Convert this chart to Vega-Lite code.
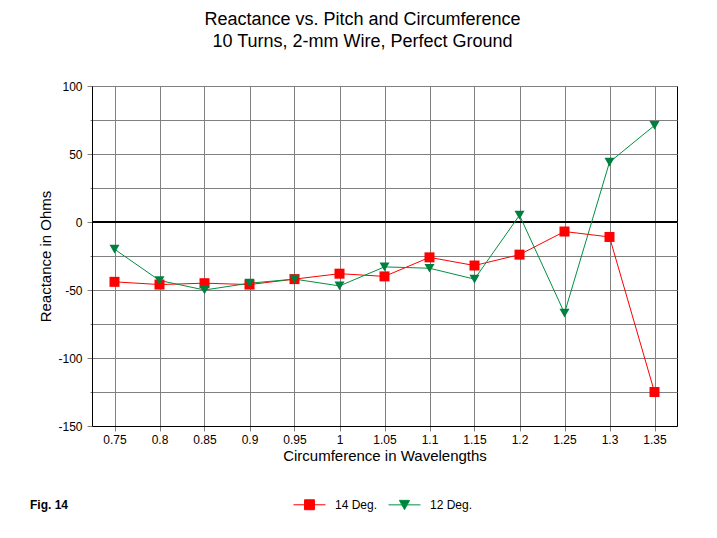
{
  "$schema": "https://vega.github.io/schema/vega-lite/v6.json",
  "width": 585,
  "height": 340,
  "autosize": {"type": "none"},
  "padding": {"left": 92, "top": 86, "right": 40, "bottom": 112},
  "background": "white",
  "config": {
    "font": "Liberation Sans",
    "view": {"stroke": "black", "strokeWidth": 1},
    "axis": {
      "labelColor": "black",
      "titleColor": "black",
      "labelFontSize": 12,
      "titleFontSize": 15,
      "titleFontWeight": "normal",
      "grid": true,
      "gridColor": "#808080",
      "gridOpacity": 1,
      "gridWidth": 1,
      "tickColor": "#808080",
      "tickSize": 5,
      "domainColor": "black"
    }
  },
  "title": {
    "text": ["Reactance vs. Pitch and Circumference", "10 Turns, 2-mm Wire, Perfect Ground"],
    "fontSize": 18,
    "fontWeight": "normal",
    "font": "Liberation Sans",
    "color": "black",
    "anchor": "middle",
    "dx": -22,
    "offset": 29,
    "lineHeight": 22
  },
  "data": {
    "values": [
      {"c": 0.75, "s": "14 Deg.", "x": -44},
      {"c": 0.8, "s": "14 Deg.", "x": -46},
      {"c": 0.85, "s": "14 Deg.", "x": -45},
      {"c": 0.9, "s": "14 Deg.", "x": -46},
      {"c": 0.95, "s": "14 Deg.", "x": -42},
      {"c": 1.0, "s": "14 Deg.", "x": -38},
      {"c": 1.05, "s": "14 Deg.", "x": -40},
      {"c": 1.1, "s": "14 Deg.", "x": -26},
      {"c": 1.15, "s": "14 Deg.", "x": -32},
      {"c": 1.2, "s": "14 Deg.", "x": -24},
      {"c": 1.25, "s": "14 Deg.", "x": -7},
      {"c": 1.3, "s": "14 Deg.", "x": -11},
      {"c": 1.35, "s": "14 Deg.", "x": -125},
      {"c": 0.75, "s": "12 Deg.", "x": -20},
      {"c": 0.8, "s": "12 Deg.", "x": -43},
      {"c": 0.85, "s": "12 Deg.", "x": -50},
      {"c": 0.9, "s": "12 Deg.", "x": -45},
      {"c": 0.95, "s": "12 Deg.", "x": -42},
      {"c": 1.0, "s": "12 Deg.", "x": -47},
      {"c": 1.05, "s": "12 Deg.", "x": -33},
      {"c": 1.1, "s": "12 Deg.", "x": -34},
      {"c": 1.15, "s": "12 Deg.", "x": -42},
      {"c": 1.2, "s": "12 Deg.", "x": 5},
      {"c": 1.25, "s": "12 Deg.", "x": -67},
      {"c": 1.3, "s": "12 Deg.", "x": 44},
      {"c": 1.35, "s": "12 Deg.", "x": 71}
    ]
  },
  "encoding": {
    "x": {
      "field": "c",
      "type": "quantitative",
      "scale": {"domain": [0.725, 1.375], "nice": false, "zero": false},
      "axis": {
        "title": "Circumference in Wavelengths",
        "values": [0.75, 0.8, 0.85, 0.9, 0.95, 1, 1.05, 1.1, 1.15, 1.2, 1.25, 1.3, 1.35],
        "labelExpr": "'' + datum.value",
        "labelPadding": 3,
        "titlePadding": 3
      }
    },
    "y": {
      "field": "x",
      "type": "quantitative",
      "scale": {"domain": [-150, 100], "nice": false},
      "axis": {
        "title": "Reactance in Ohms",
        "grid": true,
        "values": [-150, -125, -100, -75, -50, -25, 0, 25, 50, 75, 100],
        "labelExpr": "datum.value % 50 === 0 ? '' + datum.value : ''",
        "tickSize": {"condition": {"test": "datum.value % 50 !== 0", "value": 2}, "value": 5},
        "labelPadding": 5,
        "titlePadding": 4
      }
    }
  },
  "layer": [
    {
      "mark": {"type": "rule", "color": "black", "strokeWidth": 1},
      "encoding": {"y": {"datum": 0}, "x": {"value": 0}, "x2": {"value": 585}}
    },
    {
      "mark": {"type": "line", "strokeWidth": 1},
      "encoding": {
        "color": {
          "field": "s",
          "type": "nominal",
          "scale": {"domain": ["14 Deg.", "12 Deg."], "range": ["#ff0000", "#009040"]},
          "legend": {
            "orient": "none",
            "legendX": -62,
            "legendY": 402,
            "direction": "horizontal",
            "title": "Fig. 14",
            "titleOrient": "left",
            "titleBaseline": "line-top",
            "titleLineHeight": 11,
            "titleFontWeight": "bold",
            "titleFontSize": 12,
            "titleColor": "black",
            "titlePadding": 224,
            "labelFontSize": 12,
            "labelColor": "black",
            "labelOffset": 9,
            "columnPadding": 8,
            "symbolSize": 1024,
            "symbolStrokeWidth": 1,
            "symbolType": "M-1,0H1M-0.31,-0.31H0.31V0.31H-0.31Z",
            "encode": {
              "symbols": {
                "update": {
                  "shape": {"signal": "datum.value === '14 Deg.' ? 'M-1,0H1M-0.31,-0.31H0.31V0.31H-0.31Z' : 'M-1,0H1M-0.32,-0.28L0.32,-0.28L0,0.3Z'"},
                  "fill": {"signal": "datum.value === '14 Deg.' ? '#ff0000' : '#008040'"},
                  "stroke": {"signal": "datum.value === '14 Deg.' ? '#ff0000' : '#009040'"},
                  "strokeWidth": {"value": 1},
                  "opacity": {"value": 1}
                }
              }
            }
          }
        }
      }
    },
    {
      "transform": [{"filter": "datum.s === '14 Deg.'"}],
      "mark": {"type": "point", "shape": "square", "filled": true, "opacity": 1, "size": 100, "color": "#ff0000"}
    },
    {
      "transform": [{"filter": "datum.s === '12 Deg.'"}],
      "mark": {"type": "point", "shape": "triangle-down", "filled": true, "opacity": 1, "size": 100, "color": "#008040"}
    }
  ]
}
